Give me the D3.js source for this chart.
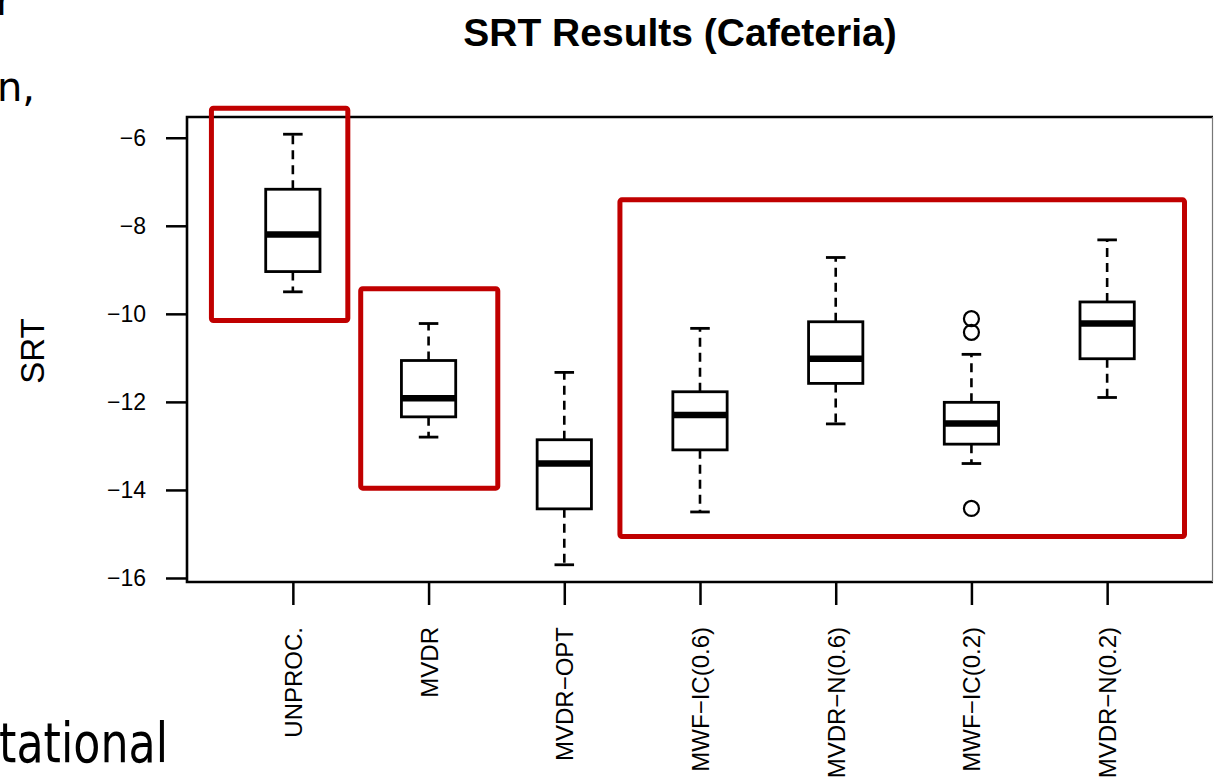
<!DOCTYPE html>
<html>
<head>
<meta charset="utf-8">
<script src="https://cdn.jsdelivr.net/npm/d3@7"></script>
<style>
  html, body { margin: 0; padding: 0; background: #fff; }
  svg { display: block; }
</style>
</head>
<body>
<svg id="chart" width="1214" height="778"></svg>
<script>
// Speech reception thresholds per processing method (five-number summaries)
const categories = ["UNPROC.", "MVDR", "MVDR\u2212OPT", "MWF\u2212IC(0.6)", "MVDR\u2212N(0.6)", "MWF\u2212IC(0.2)", "MVDR\u2212N(0.2)"];
const lowerWhisker = [-9.5, -12.8, -15.7, -14.5, -12.5, -13.4, -11.9];
const lowerQuartile = [-9.04, -12.34, -14.43, -13.09, -11.58, -12.96, -11.02];
const medians = [-8.2, -11.92, -13.4, -12.3, -11.02, -12.49, -10.22];
const upperQuartile = [-7.17, -11.06, -12.86, -11.77, -10.18, -12.01, -9.73];
const upperWhisker = [-5.92, -10.22, -11.33, -10.33, -8.72, -10.92, -8.32];
const outlierGroup = [5, 5, 5];
const outlierValue = [-10.11, -10.42, -14.42];
const yTicks = [-6, -8, -10, -12, -14, -16];

// Highlight frames: [from position, to position, top SRT, bottom SRT]
const highlightX0 = [0.4, 1.5, 3.41];
const highlightX1 = [1.405, 2.51, 7.57];
const highlightTop = [-5.33, -9.43, -7.41];
const highlightBottom = [-10.15, -13.96, -15.06];

const title = "SRT Results (Cafeteria)";
const yLabel = "SRT";

const svg = d3.select("#chart");
const plot = { left: 187, right: 1213, top: 117, bottom: 582 };

// R-style axis ranges: 4% padding around the data extent
const n = categories.length;
const xPad = n * 0.04;
const x = d3.scaleLinear()
  .domain([0.5 - xPad, n + 0.5 + xPad])
  .range([plot.left, plot.right]);

const allVals = lowerWhisker.concat(upperWhisker, outlierValue);
const yMin = d3.min(allVals), yMax = d3.max(allVals);
const yPad = (yMax - yMin) * 0.04;
const y = d3.scaleLinear()
  .domain([yMin - yPad, yMax + yPad])
  .range([plot.bottom, plot.top]);

// Fragments of surrounding slide text
const slideFont = "'DejaVu Sans', Verdana, sans-serif";
svg.append("text").attr("x", -4).attr("y", 15)
  .attr("font-family", slideFont).attr("font-size", 40).attr("fill", "#000").text("r");
svg.append("text").attr("x", -3).attr("y", 101)
  .attr("font-family", slideFont).attr("font-size", 40).attr("fill", "#000").text("n,");
svg.append("text").attr("x", -1).attr("y", 762)
  .attr("font-family", slideFont).attr("font-size", 56)
  .attr("textLength", 169).attr("lengthAdjust", "spacingAndGlyphs")
  .attr("fill", "#000").text("tational");

// Title
svg.append("text")
  .attr("x", 680).attr("y", 46)
  .attr("text-anchor", "middle")
  .attr("font-family", "'Liberation Sans', Arial, sans-serif")
  .attr("font-weight", "bold")
  .attr("font-size", 39)
  .attr("fill", "#000")
  .text(title);

// Y axis label
svg.append("text")
  .attr("transform", "translate(44,351) rotate(-90)")
  .attr("text-anchor", "middle")
  .attr("font-family", "'Liberation Sans', Arial, sans-serif")
  .attr("font-size", 33)
  .attr("fill", "#000")
  .text(yLabel);

const axisFont = "'Liberation Sans', Arial, sans-serif";

// Y axis
const yAxis = svg.append("g")
  .attr("transform", `translate(${plot.left},0)`)
  .call(d3.axisLeft(y).tickValues(yTicks).tickSize(21).tickPadding(20)
    .tickFormat(d => String(d).replace("-", "\u2212")));
yAxis.select(".domain").remove();
yAxis.selectAll(".tick line").attr("stroke", "#000").attr("stroke-width", 2.5);
yAxis.selectAll(".tick text")
  .attr("font-family", axisFont).attr("font-size", 23).attr("fill", "#000");

// X axis
const xAxis = svg.append("g")
  .attr("transform", `translate(0,${plot.bottom})`)
  .call(d3.axisBottom(x).tickValues(d3.range(1, n + 1)).tickSize(23)
    .tickFormat(d => categories[d - 1]));
xAxis.select(".domain").remove();
xAxis.selectAll(".tick line").attr("stroke", "#000").attr("stroke-width", 2.5);
xAxis.selectAll(".tick text")
  .attr("font-family", axisFont).attr("font-size", 24).attr("fill", "#000")
  .attr("text-anchor", "end")
  .attr("dy", null)
  .attr("dominant-baseline", "central")
  .attr("transform", "translate(0,45) rotate(-90)")
  .attr("y", 0).attr("x", 0);

// Plot frame
svg.append("path")
  .attr("d", `M${plot.right},${plot.top} L${plot.left},${plot.top} L${plot.left},${plot.bottom} L${plot.right},${plot.bottom}`)
  .attr("fill", "none").attr("stroke", "#000").attr("stroke-width", 2.6);
svg.append("line")
  .attr("x1", plot.right - 0.5).attr("x2", plot.right - 0.5)
  .attr("y1", plot.top).attr("y2", plot.bottom)
  .attr("stroke", "#777").attr("stroke-width", 1.2);

// Box plots
const boxHalf = (x(2) - x(1)) * 0.2;
const capHalf = boxHalf * 0.36;
const groups = svg.append("g").selectAll("g")
  .data(categories.map((c, i) => i))
  .join("g");

groups.append("line") // upper whisker
  .attr("x1", i => x(i + 1)).attr("x2", i => x(i + 1))
  .attr("y1", i => y(upperQuartile[i])).attr("y2", i => y(upperWhisker[i]))
  .attr("stroke", "#000").attr("stroke-width", 2.6).attr("stroke-dasharray", "9,6");
groups.append("line") // lower whisker
  .attr("x1", i => x(i + 1)).attr("x2", i => x(i + 1))
  .attr("y1", i => y(lowerQuartile[i])).attr("y2", i => y(lowerWhisker[i]))
  .attr("stroke", "#000").attr("stroke-width", 2.6).attr("stroke-dasharray", "9,6");
groups.append("line") // upper cap
  .attr("x1", i => x(i + 1) - capHalf).attr("x2", i => x(i + 1) + capHalf)
  .attr("y1", i => y(upperWhisker[i])).attr("y2", i => y(upperWhisker[i]))
  .attr("stroke", "#000").attr("stroke-width", 2.8);
groups.append("line") // lower cap
  .attr("x1", i => x(i + 1) - capHalf).attr("x2", i => x(i + 1) + capHalf)
  .attr("y1", i => y(lowerWhisker[i])).attr("y2", i => y(lowerWhisker[i]))
  .attr("stroke", "#000").attr("stroke-width", 2.8);
groups.append("rect") // interquartile box
  .attr("x", i => x(i + 1) - boxHalf)
  .attr("width", boxHalf * 2)
  .attr("y", i => y(upperQuartile[i]))
  .attr("height", i => y(lowerQuartile[i]) - y(upperQuartile[i]))
  .attr("fill", "#fff").attr("stroke", "#000").attr("stroke-width", 2.8);
groups.append("line") // median
  .attr("x1", i => x(i + 1) - boxHalf).attr("x2", i => x(i + 1) + boxHalf)
  .attr("y1", i => y(medians[i])).attr("y2", i => y(medians[i]))
  .attr("stroke", "#000").attr("stroke-width", 6.5);

// Outliers
svg.append("g").selectAll("circle")
  .data(outlierValue.map((v, k) => k))
  .join("circle")
  .attr("cx", k => x(outlierGroup[k] + 1))
  .attr("cy", k => y(outlierValue[k]))
  .attr("r", 7.5)
  .attr("fill", "none").attr("stroke", "#000").attr("stroke-width", 2.2);

// Highlight frames
svg.append("g").selectAll("rect")
  .data(highlightX0.map((v, k) => k))
  .join("rect")
  .attr("x", k => x(highlightX0[k]))
  .attr("y", k => y(highlightTop[k]))
  .attr("width", k => x(highlightX1[k]) - x(highlightX0[k]))
  .attr("height", k => y(highlightBottom[k]) - y(highlightTop[k]))
  .attr("rx", 2)
  .attr("fill", "none").attr("stroke", "#C00000").attr("stroke-width", 5);
</script>
</body>
</html>
